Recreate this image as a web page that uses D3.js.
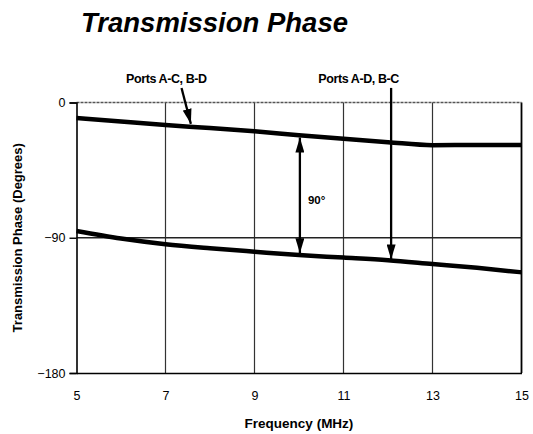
<!DOCTYPE html>
<html>
<head>
<meta charset="utf-8">
<script src="https://cdn.jsdelivr.net/npm/d3@7"></script>
<style>
  body { margin: 0; background: #fff; }
  text { font-family: "Liberation Sans", Arial, sans-serif; }
</style>
</head>
<body>
<div id="chart"></div>
<script>
// Datos
const freq = [5, 6, 7, 8, 9, 10, 11, 12, 13, 14, 15];
const phaseAC = [-10.3, -12.7, -15, -17, -19.2, -21.8, -24.2, -26.4, -28.4, -28.3, -28.3];
const phaseAD = [-85.5, -90.5, -94.3, -97, -99.3, -101.5, -103.2, -105, -107.5, -110, -113];
const xTicks = [5, 7, 9, 11, 13, 15];
const yTicks = [0, -90, -180];

// Configuración del gráfico
const W = 533, H = 434;
const margin = { top: 102.5, right: 11.5, bottom: 61, left: 76.5 };
const width = W - margin.left - margin.right;
const height = H - margin.top - margin.bottom;

const svg = d3.select("#chart").append("svg")
    .attr("width", W)
    .attr("height", H);

const g = svg.append("g")
    .attr("transform", `translate(${margin.left},${margin.top})`);

const x = d3.scaleLinear().domain([5, 15]).range([0, width]);
const y = d3.scaleLinear().domain([-180, 0]).range([height, 0]);

// Rejilla vertical
g.selectAll(".vgrid")
    .data(xTicks.slice(1))
    .enter().append("line")
    .attr("class", "vgrid")
    .attr("x1", d => x(d)).attr("x2", d => x(d))
    .attr("y1", 0).attr("y2", height)
    .attr("stroke", d => d === 15 ? "#000" : "#333")
    .attr("stroke-width", d => d === 15 ? 1.8 : 1.2);

// Rejilla horizontal
g.selectAll(".hgrid")
    .data([0, -90])
    .enter().append("line")
    .attr("class", "hgrid")
    .attr("x1", 0).attr("x2", width)
    .attr("y1", d => y(d)).attr("y2", d => y(d))
    .attr("stroke", d => d === 0 ? "#555" : "#222")
    .attr("stroke-width", 1.3)
    .attr("stroke-dasharray", d => d === 0 ? "3,1" : null);

// Eje Y
const yAxis = d3.axisLeft(y).tickValues(yTicks).tickSize(7).tickPadding(4);
const gy = g.append("g").call(yAxis);
gy.select(".domain").attr("stroke-width", 1.6);
gy.selectAll(".tick line").attr("stroke-width", 1.4);
gy.selectAll("text")
    .attr("font-size", 12.5)
    .attr("font-family", "Liberation Sans, Arial, sans-serif")
    .attr("fill", "#000");

// Eje X
const xAxis = d3.axisBottom(x).tickValues(xTicks).tickSize(0).tickPadding(18);
const gx = g.append("g").attr("transform", `translate(0,${height})`).call(xAxis);
gx.select(".domain").attr("stroke-width", 1.6);
gx.selectAll("text")
    .attr("font-size", 12.5)
    .attr("font-family", "Liberation Sans, Arial, sans-serif")
    .attr("fill", "#000");

// Curvas
const line = d3.line()
    .x(d => x(d[0]))
    .y(d => y(d[1]))
    .curve(d3.curveMonotoneX);

[phaseAC, phaseAD].forEach(serie => {
    g.append("path")
        .datum(freq.map((f, i) => [f, serie[i]]))
        .attr("d", line)
        .attr("fill", "none")
        .attr("stroke", "#000")
        .attr("stroke-width", 4.5);
});

// Puntas de flecha
const defs = svg.append("defs");
defs.append("marker")
    .attr("id", "head")
    .attr("viewBox", "0 0 10 10")
    .attr("refX", 10).attr("refY", 5)
    .attr("markerWidth", 15).attr("markerHeight", 9)
    .attr("markerUnits", "userSpaceOnUse")
    .attr("orient", "auto-start-reverse")
    .attr("preserveAspectRatio", "none")
    .append("path")
    .attr("d", "M0,0 L10,5 L0,10 Z")
    .attr("fill", "#000");

// Flechas de anotación (coordenadas en unidades de datos)
const arrows = [
    { x1: 7.36, y1: 9.7, x2: 7.57, y2: -14.2, both: false },
    { x1: 12.07, y1: 9.7, x2: 12.07, y2: -104.4, both: false },
    { x1: 10.02, y1: -23.3, x2: 10.02, y2: -100.3, both: true }
];
g.selectAll(".arrow")
    .data(arrows)
    .enter().append("line")
    .attr("class", "arrow")
    .attr("x1", d => x(d.x1)).attr("y1", d => y(d.y1))
    .attr("x2", d => x(d.x2)).attr("y2", d => y(d.y2))
    .attr("stroke", "#000")
    .attr("stroke-width", 2.3)
    .attr("marker-end", "url(#head)")
    .attr("marker-start", d => d.both ? "url(#head)" : null);

// Etiquetas
const labels = [
    { text: "Ports A-C, B-D", fx: 7.02, fy: 13.3 },
    { text: "Ports A-D, B-C", fx: 11.34, fy: 13.3 }
];
g.selectAll(".lbl")
    .data(labels)
    .enter().append("text")
    .attr("class", "lbl")
    .attr("x", d => x(d.fx)).attr("y", d => y(d.fy))
    .attr("text-anchor", "middle")
    .attr("font-size", 12.5)
    .attr("font-weight", "bold")
    .attr("letter-spacing", -0.4)
    .text(d => d.text);

g.append("text")
    .attr("x", x(10.2)).attr("y", y(-65))
    .attr("dy", "0.35em")
    .attr("font-size", 11.5)
    .attr("font-weight", "bold")
    .text("90°");

// Títulos
svg.append("text")
    .attr("x", 81).attr("y", 32)
    .attr("font-size", 27.5)
    .attr("font-weight", "bold")
    .attr("font-style", "italic")
    .text("Transmission Phase");

svg.append("text")
    .attr("x", margin.left + width / 2).attr("y", 428)
    .attr("text-anchor", "middle")
    .attr("font-size", 13.5)
    .attr("font-weight", "bold")
    .text("Frequency (MHz)");

svg.append("text")
    .attr("transform", `translate(22,${margin.top + height / 2}) rotate(-90)`)
    .attr("text-anchor", "middle")
    .attr("font-size", 13)
    .attr("font-weight", "bold")
    .text("Transmission Phase (Degrees)");
</script>
</body>
</html>
